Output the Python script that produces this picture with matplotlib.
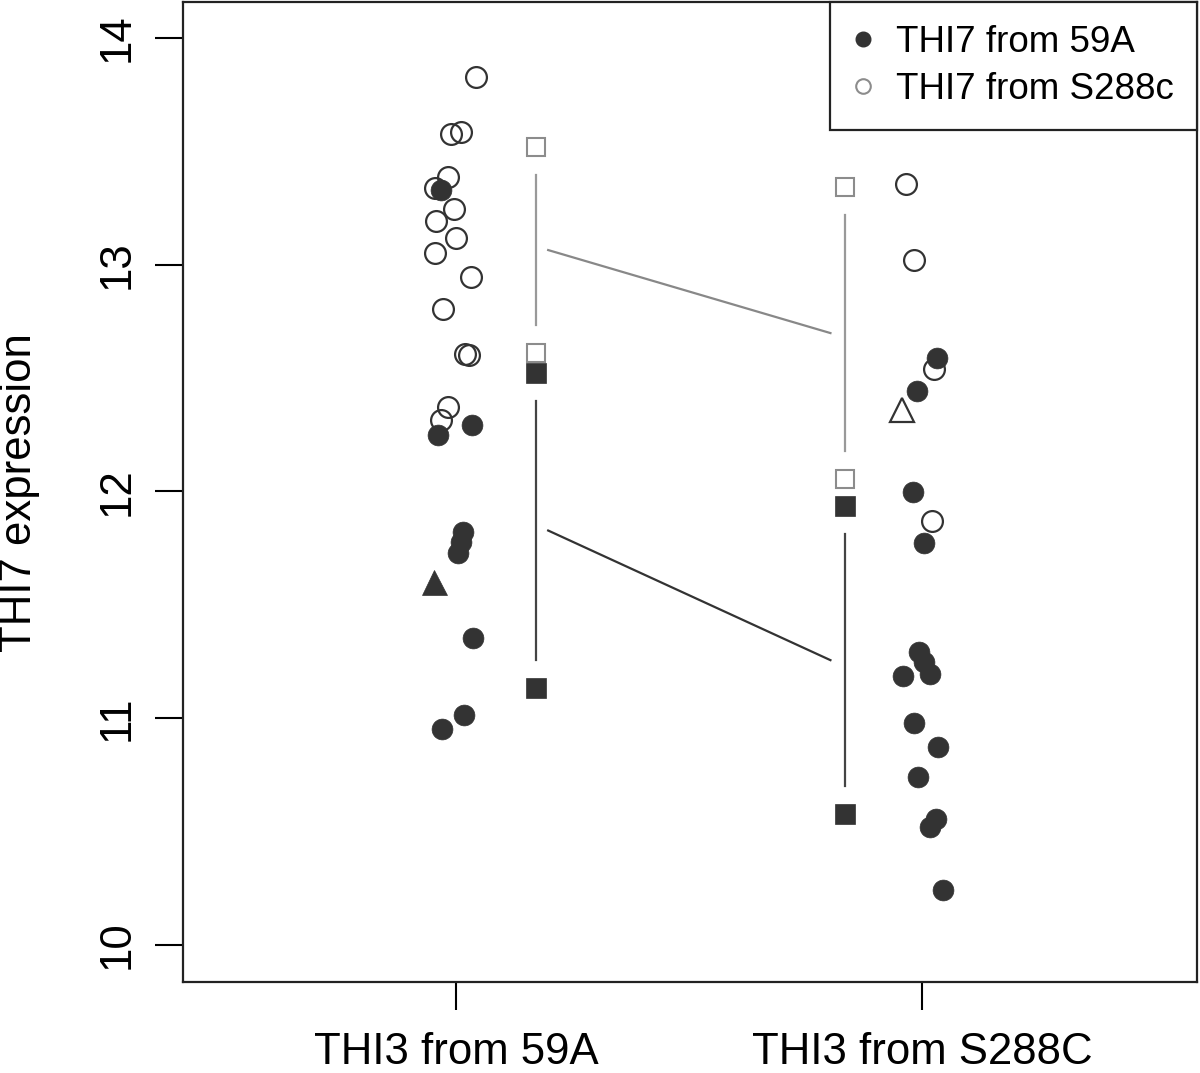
import matplotlib.pyplot as plt
from matplotlib.lines import Line2D

plt.rcParams['font.family'] = ['Liberation Sans', 'DejaVu Sans']

# THI3 from 59A (x near 1)
left_open_x = [1.041, 0.989, 1.009, 0.983, 0.955, 0.994, 0.957, 1.000, 0.955, 1.032, 0.972, 1.019, 1.028, 0.981, 0.966]
left_open_y = [13.827, 13.575, 13.584, 13.386, 13.337, 13.245, 13.192, 13.117, 13.051, 12.945, 12.804, 12.605, 12.601, 12.372, 12.315]
left_fill_x = [0.966, 0.961, 1.034, 1.015, 1.009, 1.004, 1.036, 1.017, 0.968]
left_fill_y = [13.329, 12.248, 12.292, 11.821, 11.777, 11.728, 11.353, 11.014, 10.952]
left_tri = (0.951, 11.600)

# THI3 from S288C (x near 2)
right_open_x = [1.966, 1.983, 2.026, 2.021]
right_open_y = [13.355, 13.020, 12.539, 11.869]
right_fill_x = [2.032, 1.989, 1.981, 2.004, 1.994, 2.004, 2.017, 1.959, 1.983, 2.034, 1.991, 2.030, 2.017, 2.045]
right_fill_y = [12.588, 12.442, 11.997, 11.772, 11.291, 11.247, 11.194, 11.185, 10.978, 10.872, 10.740, 10.555, 10.520, 10.242]
right_tri = (1.957, 12.358)

# summary squares (low, high) per group
sq_x = [1.170, 1.835]
open_lo = [12.610, 12.054]
open_hi = [13.518, 13.342]
fill_lo = [11.133, 10.577]
fill_hi = [12.522, 11.935]

categories = ["THI3 from 59A", "THI3 from S288C"]
legend_labels = ["THI7 from 59A", "THI7 from S288c"]

DARK = "#333333"
GREY = "#8c8c8c"
GAP = 0.122

fig = plt.figure(figsize=(12, 10.73), dpi=100)
ax = fig.add_axes([0.1525, 0.0848, 0.845, 0.9132])

# vertical bars between squares
for i, x in enumerate(sq_x):
    ax.plot([x, x], [open_hi[i] - GAP, open_lo[i] + GAP], color="#999999", lw=1.6, zorder=1)
    ax.plot([x, x], [fill_hi[i] - GAP, fill_lo[i] + GAP], color="#444444", lw=1.6, zorder=1)

# lines joining group means
open_mean = [(a + b) / 2 for a, b in zip(open_lo, open_hi)]
fill_mean = [(a + b) / 2 for a, b in zip(fill_lo, fill_hi)]
ax.plot([1.197, 1.803], open_mean, color="#888888", lw=1.6, zorder=1)
ax.plot([1.197, 1.803], fill_mean, color="#333333", lw=1.6, zorder=1)

# squares
ax.plot(sq_x, open_hi, ls="none", marker="s", ms=13.5, mfc="white", mec=GREY, mew=1.5, zorder=3)
ax.plot(sq_x, open_lo, ls="none", marker="s", ms=13.5, mfc="white", mec=GREY, mew=1.5, zorder=3)
ax.plot(sq_x, fill_hi, ls="none", marker="s", ms=14.5, mfc=DARK, mec=DARK, mew=0.5, zorder=4)
ax.plot(sq_x, fill_lo, ls="none", marker="s", ms=14.5, mfc=DARK, mec=DARK, mew=0.5, zorder=4)

# points
ax.plot(left_open_x + right_open_x, left_open_y + right_open_y, ls="none", marker="o", ms=15,
        mfc="none", mec=DARK, mew=1.6, zorder=3)
ax.plot(left_fill_x + right_fill_x, left_fill_y + right_fill_y, ls="none", marker="o", ms=15,
        mfc=DARK, mec=DARK, mew=0.5, zorder=4)
ax.plot([left_tri[0]], [left_tri[1]], ls="none", marker="^", ms=18, mfc=DARK, mec=DARK, mew=0.5, zorder=4)
ax.plot([right_tri[0]], [right_tri[1]], ls="none", marker="^", ms=17, mfc="none", mec=DARK, mew=1.6, zorder=4)

ax.set_xlim(0.413, 2.59)
ax.set_ylim(9.837, 14.157)
ax.set_xticks([1, 2])
ax.set_xticklabels(categories)
ax.set_yticks([10, 11, 12, 13, 14])
ax.set_yticklabels(["10", "11", "12", "13", "14"], rotation=90, va="center")
ax.tick_params(axis="both", length=20, width=1.5, labelsize=31.5, colors="black")
ax.tick_params(axis="x", pad=16)
ax.tick_params(axis="y", pad=13)
for s in ax.spines.values():
    s.set_linewidth(1.6)
    s.set_color("#222222")

ax.set_ylabel("THI7 expression", fontsize=31.5)
ax.yaxis.set_label_coords(-0.141, 0.5)

handles = [
    Line2D([], [], ls="none", marker="o", ms=10.5, mfc=DARK, mec=DARK),
    Line2D([], [], ls="none", marker="o", ms=10.5, mfc="none", mec=GREY, mew=1.5),
]
leg = ax.legend(handles, legend_labels, loc="upper right", fontsize=26.5, borderaxespad=0,
                fancybox=False, framealpha=1, edgecolor="#222222", borderpad=0.62,
                handlelength=0.55, handletextpad=0.63, labelspacing=0.33)
leg.get_frame().set_linewidth(1.6)

fig.savefig("out.png", dpi=100)
